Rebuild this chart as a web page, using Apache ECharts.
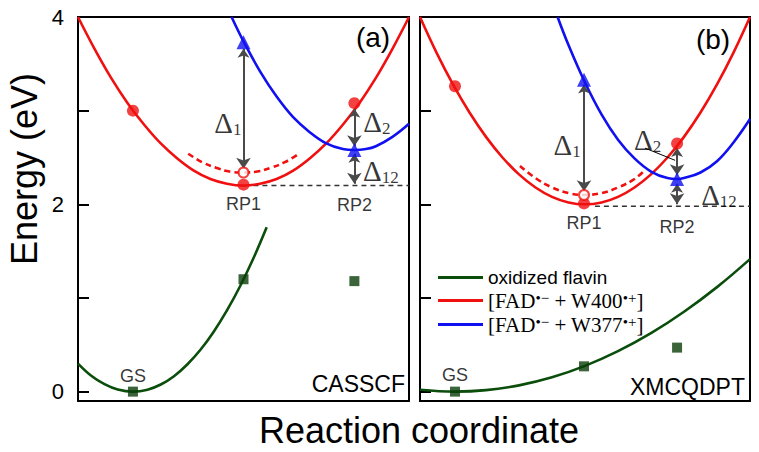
<!DOCTYPE html>
<html><head><meta charset="utf-8">
<script src="https://cdn.jsdelivr.net/npm/echarts@6/dist/echarts.min.js"></script>
<style>html,body{margin:0;padding:0;background:#fff}#c{width:759px;height:452px}</style>
</head><body><div id="c"></div>
<script>
// ---- data (reaction coordinate 0..1 in each panel, energy in eV) ----
// Panel (a) CASSCF
const greenA = [[0,0.30],[0.04,0.17],[0.08,0.08],[0.12,0.023],[0.166,0],[0.21,0.021],[0.25,0.076],[0.29,0.165],[0.33,0.29],[0.37,0.447],[0.41,0.64],[0.45,0.867],[0.49,1.128],[0.53,1.424],[0.57,1.755]];
const redA = [[0,4.0],[0.05,3.66],[0.1,3.35],[0.15,3.08],[0.2,2.85],[0.25,2.65],[0.3,2.49],[0.35,2.36],[0.4,2.27],[0.45,2.22],[0.5,2.2],[0.55,2.22],[0.6,2.27],[0.65,2.36],[0.7,2.49],[0.75,2.65],[0.8,2.85],[0.85,3.08],[0.9,3.35],[0.95,3.66],[1.0,4.0]];
const redDashA = [[0.333,2.54],[0.375,2.45],[0.417,2.39],[0.458,2.35],[0.5,2.34],[0.542,2.35],[0.583,2.39],[0.625,2.45],[0.668,2.54]];
const blueA = [[0.464,4.0],[0.5,3.74],[0.55,3.42],[0.6,3.15],[0.65,2.93],[0.7,2.77],[0.75,2.65],[0.8,2.59],[0.835,2.58],[0.87,2.59],[0.9,2.62],[0.95,2.72],[1.0,2.86]];
const redDotsA = [[0.166,3.0],[0.5,2.21],[0.835,3.08]];
const openA = [[0.5,2.34]];
const triA = [[0.5,3.73],[0.835,2.58]];
const sqA = [[0.166,0.0],[0.5,1.2],[0.835,1.18]];
const refA = [[0.53,2.2],[1,2.2]];
const arrowsA = [[[0.5,3.66],[0.5,2.38]],[[0.835,3.02],[0.835,2.62]],[[0.835,2.54],[0.835,2.22]]];
const labelsA = [['RP1',0.5,2.0],['RP2',0.835,1.99],['GS',0.166,0.17]];
const deltaA = [['1',0.453,2.87],['2',0.903,2.88],['12',0.915,2.36]];
// Panel (b) XMCQDPT
const greenB = [[0,0.02],[0.106,0],[0.2,0.016],[0.3,0.067],[0.4,0.153],[0.5,0.275],[0.6,0.432],[0.7,0.624],[0.8,0.853],[0.9,1.116],[1.0,1.415]];
const redB = [[0,4.0],[0.05,3.62],[0.1,3.28],[0.15,2.98],[0.2,2.72],[0.25,2.5],[0.3,2.32],[0.35,2.18],[0.4,2.08],[0.45,2.02],[0.5,2.0],[0.55,2.02],[0.6,2.08],[0.65,2.18],[0.7,2.32],[0.75,2.5],[0.8,2.72],[0.85,2.98],[0.9,3.28],[0.95,3.62],[1.0,4.0]];
const redDashB = [[0.303,2.41],[0.35,2.28],[0.4,2.18],[0.45,2.12],[0.497,2.10],[0.55,2.12],[0.6,2.18],[0.65,2.27],[0.68,2.36]];
const blueB = [[0.417,4.0],[0.45,3.70],[0.5,3.30],[0.55,2.96],[0.6,2.69],[0.65,2.49],[0.7,2.35],[0.75,2.28],[0.779,2.27],[0.8,2.28],[0.85,2.34],[0.9,2.46],[0.95,2.66],[1.0,2.91]];
const redDotsB = [[0.106,3.26],[0.497,2.01],[0.779,2.65]];
const openB = [[0.497,2.10]];
const triB = [[0.497,3.33],[0.779,2.27]];
const sqB = [[0.106,0.0],[0.497,0.27],[0.779,0.47]];
const refB = [[0.53,1.98],[1,1.98]];
const arrowsB = [[[0.497,3.28],[0.497,2.14]],[[0.779,2.6],[0.779,2.31]],[[0.779,2.22],[0.779,2.0]]];
const leaderB = [[0.682,2.60],[0.773,2.47]];
const labelsB = [['RP1',0.497,1.80],['RP2',0.779,1.76],['GS',0.106,0.18]];
const deltaB = [['1',0.446,2.63],['2',0.69,2.69],['12',0.906,2.10]];
// axis ticks
const tickValues = [0,1,2,3];
const tickLabels = [0,2,4];
const names = ['oxidized flavin','[FAD\u2022\u2212 + W400\u2022+]','[FAD\u2022\u2212 + W377\u2022+]'];

const SANS = 'Liberation Sans, Arial, Helvetica, sans-serif';
const SERIF = 'Liberation Serif, Times New Roman, serif';
const GREEN = '#0b4d0b', RED = '#f01010', BLUE = '#1010f0', GRAY = '#4a4a4a';

const chart = echarts.init(document.getElementById('c'), null, {renderer:'svg'});

const gA = {left:78, top:17, width:331, height:384};
const gB = {left:420, top:17, width:330, height:384};

function yAxis(g, labels){
  return {gridIndex:g, type:'value', position:'left', min:-0.1, max:4, axisLine:{show:false}, splitLine:{show:false},
     axisTick:{show:true, inside:true, length:11, customValues:tickValues, lineStyle:{color:'#000', width:2}},
     axisLabel:{show:labels, customValues:tickLabels, fontSize:22, color:'#000', margin:14, fontFamily:SANS}};
}
function panel(g, d){
  const base = {xAxisIndex:g, yAxisIndex:g};
  const line = (name, data, color, dashed) => Object.assign({type:'line', name, data, smooth:0.4, showSymbol:false, silent:true,
      lineStyle:{color, width:2.6, type: dashed ? [6,4] : 'solid'}, itemStyle:{color}, z:2}, base);
  const sc = (data, symbol, size, style, z) => Object.assign({type:'scatter', data, symbol, symbolSize:size, itemStyle:style, z:z||5, silent:true}, base);
  const lab = {show:true, position:'inside', color:'#000', textBorderWidth:0, textShadowBlur:0};
  return [
    line(names[0], d.green, GREEN),
    line(names[1], d.red, RED),
    line('dashed', d.redDash, RED, true),
    line(names[2], d.blue, BLUE),
    Object.assign({type:'line', data:d.ref, showSymbol:false, silent:true, lineStyle:{color:'#333', width:1.5, type:[5,4]}, z:1}, base),
    Object.assign({type:'lines', coordinateSystem:'cartesian2d', silent:true, symbol:['arrow','arrow'], symbolSize:[9,11],
      lineStyle:{color:GRAY, width:2, opacity:1}, data:d.arrows.map(c=>({coords:c})), z:4}, base),
    sc(d.sq, 'rect', 10, {color:'#0a3d0a'}),
    sc(d.redDots, 'circle', 12, {color:RED}),
    sc(d.open, 'circle', 10, {color:'#fff', borderColor:RED, borderWidth:2}),
    sc(d.tri, 'triangle', 14, {color:BLUE}),
    Object.assign({type:'scatter', symbolSize:0, silent:true, z:6,
      data:d.labels.map(l=>({name:l[0], value:[l[1],l[2]]})),
      label:Object.assign({formatter:'{b}', fontSize:18, fontFamily:SANS}, lab)}, base),
    Object.assign({type:'scatter', symbolSize:0, silent:true, z:6,
      data:d.delta.map(l=>({name:l[0], value:[l[1],l[2]]})),
      label:Object.assign({formatter:p=>'{d|\u0394}{s|'+p.name+'}',
        rich:{d:{fontSize:29, fontFamily:SERIF, color:'#000', lineHeight:30},
              s:{fontSize:17, fontFamily:SERIF, color:'#000', lineHeight:14, verticalAlign:'bottom'}}}, lab)}, base)
  ];
}
const series = panel(0, {green:greenA, red:redA, redDash:redDashA, blue:blueA, ref:refA, arrows:arrowsA,
  sq:sqA, redDots:redDotsA, open:openA, tri:triA, labels:labelsA, delta:deltaA})
 .concat(panel(1, {green:greenB, red:redB, redDash:redDashB, blue:blueB, ref:refB, arrows:arrowsB,
  sq:sqB, redDots:redDotsB, open:openB, tri:triB, labels:labelsB, delta:deltaB}));
series.push({type:'lines', coordinateSystem:'cartesian2d', xAxisIndex:1, yAxisIndex:1, silent:true, symbol:'none',
  lineStyle:{color:'#000', width:1, opacity:1}, data:[{coords:leaderB}], z:4});

const txt = (text, x, y, size, align, rot) => ({type:'text', x, y, rotation:rot||0, silent:true,
  style:{text, font: size+'px '+SANS, fill:'#000', align:align||'center', textAlign:align||'center', verticalAlign:'middle', textVerticalAlign:'middle'}});

chart.setOption({
  animation:false,
  backgroundColor:'#fff',
  grid:[
    Object.assign({show:true, borderColor:'#000', borderWidth:2, backgroundColor:'transparent'}, gA),
    Object.assign({show:true, borderColor:'#000', borderWidth:2, backgroundColor:'transparent'}, gB)
  ],
  xAxis:[0,1].map(g=>({gridIndex:g, type:'value', min:0, max:1, show:false})),
  yAxis:[yAxis(0, true), yAxis(1, false)],
  legend:{data:names, orient:'vertical', left:433, top:263, itemWidth:45, itemHeight:3, itemGap:3, icon:'rect', selectedMode:false,
    formatter: n => {
      if (n === names[0]) return '{a|oxidized flavin}';
      const w = n.indexOf('W400') >= 0 ? 'W400' : 'W377';
      return '{t|[FAD}{u|\u2022\u2212}{t| + '+w+'}{u|\u2022+}{t|]}';
    },
    textStyle:{color:'#000', rich:{
      a:{fontSize:19, fontFamily:SANS, color:'#000', lineHeight:20},
      t:{fontSize:21, fontFamily:SERIF, color:'#000', lineHeight:20},
      u:{fontSize:15, fontFamily:SERIF, color:'#000', lineHeight:13, verticalAlign:'top'}
    }}},
  graphic:[
    txt('Energy (eV)', 24, 169, 36, 'center', Math.PI/2),
    txt('Reaction coordinate', 419, 430, 36, 'center'),
    txt('(a)', 373, 37, 28, 'center'),
    txt('(b)', 713, 39, 28, 'center'),
    txt('CASSCF', 405, 384, 23, 'right'),
    txt('XMCQDPT', 745, 387, 23, 'right')
  ],
  series
});
</script></body></html>
